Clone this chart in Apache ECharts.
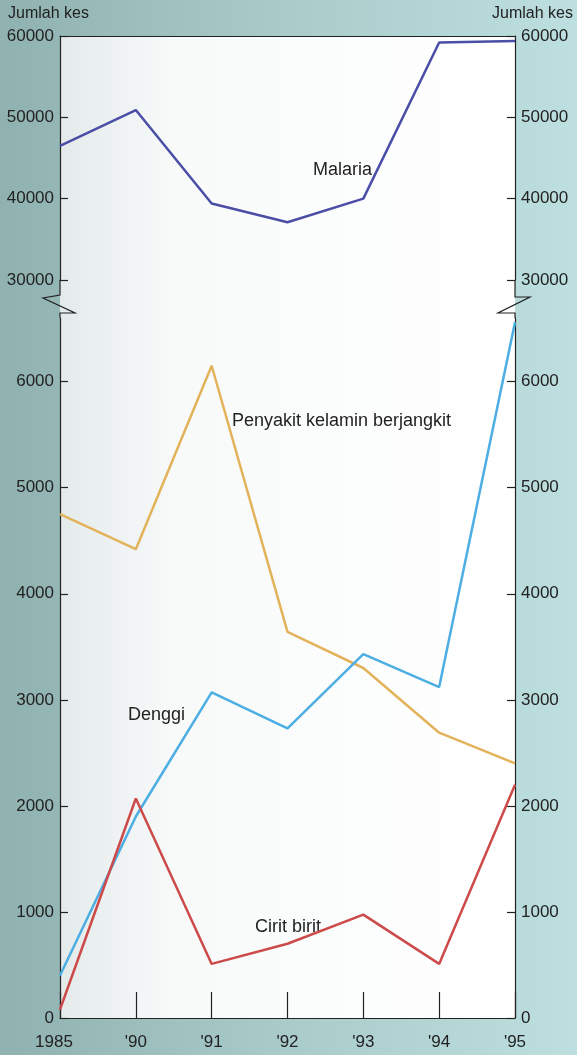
<!DOCTYPE html>
<html>
<head>
<meta charset="utf-8">
<script src="https://cdn.jsdelivr.net/npm/echarts@6/dist/echarts.min.js"></script>
<style>
  html, body { margin: 0; padding: 0; }
  #chart { width: 577px; height: 1055px; }
</style>
</head>
<body>
<div id="chart"></div>
<script>
// data
var years = ['1985', "'90", "'91", "'92", "'93", "'94", "'95"];
var malaria = [46500, 50900, 39400, 37100, 40000, 59200, 59400];
var kelamin = [4750, 4420, 6150, 3640, 3300, 2690, 2400];
var denggi = [400, 1900, 3070, 2730, 3430, 3120, 6560];
var ciritBirit = [80, 2070, 510, 700, 975, 510, 2200];

var font = '"Liberation Sans", Arial, sans-serif';
var ink = '#222';

function yAx(grid, pos, min, max, step) {
    return {
        type: 'value', gridIndex: grid, position: pos,
        min: min, max: max, interval: step,
        splitLine: { show: false },
        axisLine: { show: true, lineStyle: { color: ink, width: 1.2 } },
        axisTick: { show: true, inside: true, length: 8, lineStyle: { color: ink, width: 1.2 } },
        axisLabel: { color: ink, fontSize: 17, fontFamily: font, margin: 6, showMaxLabel: max % step === 0,
                     formatter: function (v) { return String(v); } }
    };
}

function line(name, data, color, xi, yi) {
    return {
        name: name, type: 'line', data: data,
        xAxisIndex: xi, yAxisIndex: yi,
        symbol: 'none', silent: true,
        lineStyle: { color: color, width: 2.5 }
    };
}

function label(text, x, y) {
    return {
        type: 'text', left: x, top: y,
        style: { text: text, fill: ink, font: '18px ' + font, textVerticalAlign: 'middle' }
    };
}

function brk(points) {
    return {
        type: 'polyline', shape: { points: points },
        style: { stroke: ink, lineWidth: 1.2, fill: null }
    };
}

var option = {
    backgroundColor: {
        type: 'linear', x: 0, y: 0, x2: 1, y2: 0,
        colorStops: [{ offset: 0, color: '#8fb2b0' }, { offset: 0.5, color: '#a9cccb' }, { offset: 1, color: '#bddfdf' }]
    },
    animation: false,
    grid: [
        { left: 60, right: 62, top: 36, height: 244 },
        { left: 60, right: 62, top: 318, height: 700 }
    ],
    xAxis: [
        { type: 'category', gridIndex: 0, data: years, boundaryGap: false, position: 'top',
          axisLine: { show: true, lineStyle: { color: ink, width: 1.2 } },
          axisTick: { show: false }, axisLabel: { show: false } },
        { type: 'category', gridIndex: 1, data: years, boundaryGap: false, position: 'bottom',
          axisLine: { show: true, lineStyle: { color: ink, width: 1.2 } },
          axisTick: { show: true, inside: true, interval: 0, length: 26, lineStyle: { color: ink, width: 1.2 } },
          axisLabel: { color: ink, fontSize: 17, fontFamily: font, margin: 16, interval: 0,
                       formatter: function (v, i) { return i === 0 ? '{first|' + v + '}' : v; },
                       rich: { first: { color: ink, fontSize: 17, fontFamily: font, padding: [0, 12, 0, 0] } } } }
    ],
    yAxis: [
        yAx(0, 'left', 30000, 60000, 10000),
        yAx(0, 'right', 30000, 60000, 10000),
        yAx(1, 'left', 0, 6600, 1000),
        yAx(1, 'right', 0, 6600, 1000)
    ],
    series: [
        line('Malaria', malaria, '#4a4ea6', 0, 0),
        line('Penyakit kelamin berjangkit', kelamin, '#e2b35a', 1, 2),
        line('Denggi', denggi, '#4caee2', 1, 2),
        line('Cirit birit', ciritBirit, '#cc4a4a', 1, 2)
    ],
    graphic: [
        // plot paper behind both panels and the break
        { type: 'rect', z: -10, silent: true, shape: { x: 60, y: 36, width: 455, height: 982 },
          style: { fill: { type: 'linear', x: 0, y: 0, x2: 1, y2: 0,
            colorStops: [{ offset: 0, color: '#e4eaea' }, { offset: 0.25, color: '#f8fafa' }, { offset: 1, color: '#ffffff' }] } } },
        { type: 'text', left: 8, top: 6, style: { text: 'Jumlah kes', fill: ink, font: '16px ' + font } },
        { type: 'text', right: 4, top: 6, style: { text: 'Jumlah kes', fill: ink, font: '16px ' + font } },
        label('Malaria', 313, 161),
        label('Penyakit kelamin berjangkit', 232, 412),
        label('Denggi', 128, 706),
        label('Cirit birit', 255, 918),
        brk([[60, 280], [60, 295], [43, 298], [75, 313], [60, 313], [60, 318]]),
        brk([[515, 280], [515, 297], [530, 297], [498, 313], [515, 313], [515, 318]])
    ]
};

var myChart = echarts.init(document.getElementById('chart'));
myChart.setOption(option);
</script>
</body>
</html>
